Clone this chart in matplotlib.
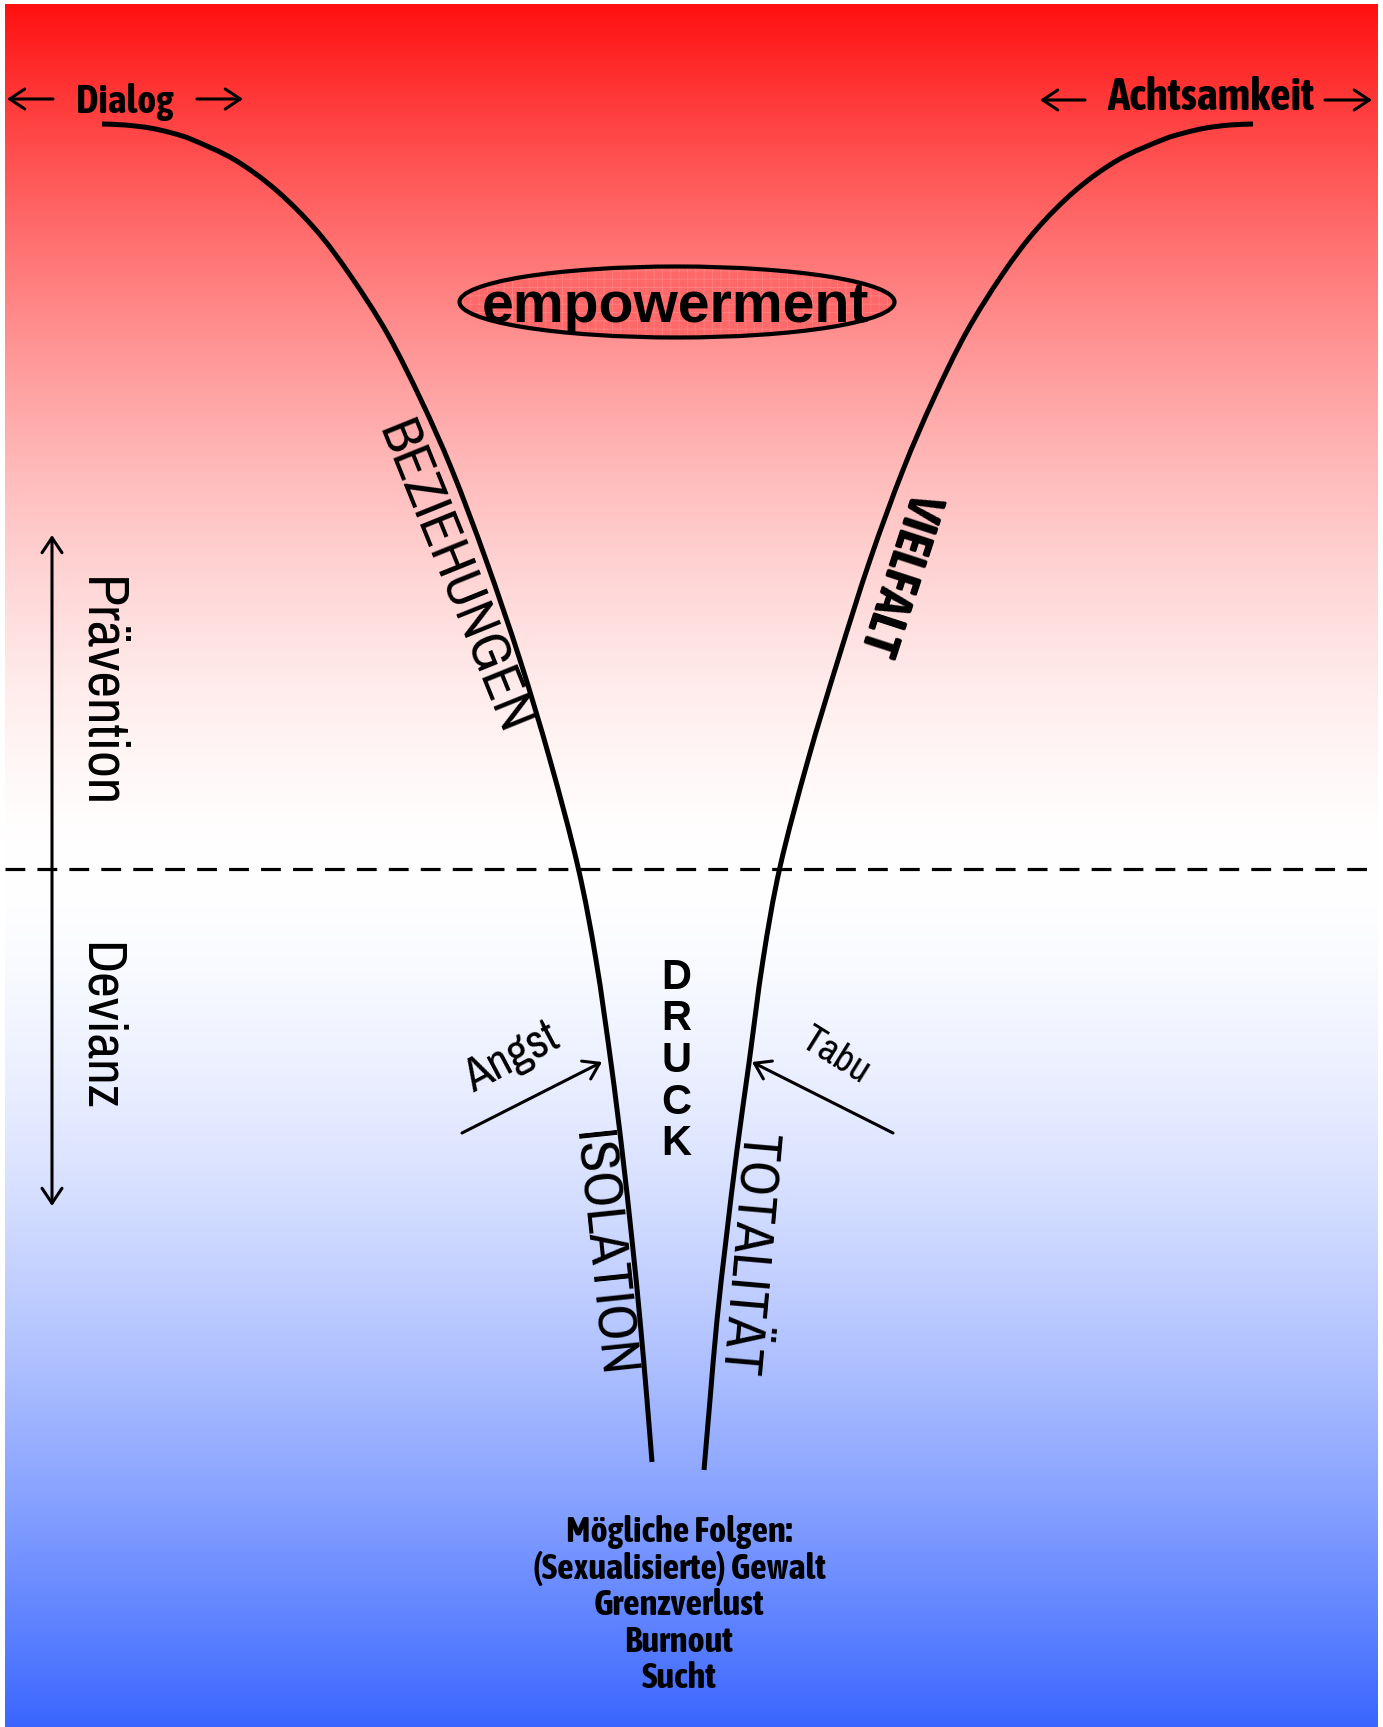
import numpy as np
import matplotlib
import matplotlib.pyplot as plt
from matplotlib.path import Path
from matplotlib.patches import PathPatch, Ellipse
from matplotlib import font_manager
matplotlib.use('Agg')

# labels
side_labels = ["Dialog", "Achtsamkeit"]
zone_labels = ["Prävention", "Devianz"]
wall_labels = ["BEZIEHUNGEN", "VIELFALT", "ISOLATION", "TOTALITÄT"]
force_labels = ["Angst", "Tabu"]
pressure_letters = ["D", "R", "U", "C", "K"]
center_label = "empowerment"
consequences = ["Mögliche Folgen:", "(Sexualisierte) Gewalt", "Grenzverlust", "Burnout", "Sucht"]

# funnel walls (pixel coords, y downward)
left_curve_y = [124, 125, 128, 133, 140, 160, 190, 230, 275, 333, 400, 470, 560, 660, 760, 867, 960, 1063, 1150, 1240, 1320, 1400, 1462]
left_curve_x = [102, 125, 150, 172, 193, 235, 276, 316, 350, 387, 421, 452, 486, 520, 550, 578, 596, 611, 622, 632, 640, 647, 652]
right_curve_y = [124, 125, 128, 133, 140, 160, 190, 230, 275, 333, 400, 470, 560, 660, 760, 867, 960, 1063, 1150, 1240, 1320, 1400, 1470]
right_curve_x = [1253, 1230, 1206, 1184, 1162, 1118, 1076, 1036, 1002, 966, 933, 903, 870, 838, 808, 780, 763, 749, 737, 726, 717, 710, 704]

# background gradient colours
top_color = np.array([255, 16, 16]) / 255
mid_color = np.array([255, 255, 255]) / 255
bottom_color = np.array([58, 102, 255]) / 255

W, H = 1383, 1727
fig = plt.figure(figsize=(W / 100, H / 100), dpi=100)
ax = fig.add_axes([0, 0, 1, 1])
ax.set_xlim(0, W)
ax.set_ylim(H, 0)
ax.axis('off')
renderer = fig.canvas.get_renderer()

# condensed faces if the system has them, else plain Liberation Sans
names = {f.name for f in font_manager.fontManager.ttflist}
narrow = 'Archivo Narrow' if 'Archivo Narrow' in names else 'Liberation Sans'
narrow_bold = 'Asap Condensed' if 'Asap Condensed' in names else 'Liberation Sans'
wide = 'Liberation Sans'


def fit_text(x, y, s, length, family, weight='normal', rotation=0, **kw):
    # size the text so that its run along the baseline is `length` pixels
    t = ax.text(x, y, s, family=family, weight=weight, fontsize=30, zorder=5, **kw)
    w = t.get_window_extent(renderer).width
    t.set_fontsize(30 * length / w)
    t.set_rotation(rotation)
    t.set_rotation_mode('anchor')
    return t


# gradient red -> white -> blue
split = 869
ys = np.linspace(4, H, 900)
rows = []
for y in ys:
    if y < split:
        s = ((split - y) / (split - 4)) ** 1.6
        rows.append(mid_color + (top_color - mid_color) * s)
    else:
        s = ((y - split) / (H - split)) ** 1.6
        rows.append(mid_color + (bottom_color - mid_color) * s)
grad = np.array(rows)[:, None, :]
ax.imshow(grad, extent=[5, 1378, H, 4], aspect='auto', interpolation='bilinear', zorder=0)


def smooth_path(xs, ys):
    pts = np.column_stack([xs, ys]).astype(float)
    verts = [pts[0]]
    codes = [Path.MOVETO]
    n = len(pts)
    for i in range(n - 1):
        p0 = pts[i - 1] if i > 0 else pts[i]
        p1, p2 = pts[i], pts[i + 1]
        p3 = pts[i + 2] if i + 2 < n else pts[i + 1]
        verts += [p1 + (p2 - p0) / 6, p2 - (p3 - p1) / 6, p2]
        codes += [Path.CURVE4] * 3
    return Path(verts, codes)


for cx, cy in [(left_curve_x, left_curve_y), (right_curve_x, right_curve_y)]:
    ax.add_patch(PathPatch(smooth_path(cx, cy), fill=False, lw=3.6, edgecolor='black',
                           capstyle='butt', joinstyle='round', zorder=3))

# dashed border between prevention and deviance
ax.plot([5, 1378], [split, split], color='black', lw=2.3, dashes=(6.2, 3.8), zorder=2)


def arrow(tail, head, style='->', lw=2.2):
    ax.annotate('', xy=head, xytext=tail,
                arrowprops=dict(arrowstyle=f'{style},head_length=0.45,head_width=0.3', lw=lw,
                                color='black', shrinkA=0, shrinkB=0, mutation_scale=24), zorder=4)


# top labels with arrows
fit_text(125, 113, side_labels[0], 97, narrow_bold, 'bold', ha='center', va='baseline')
arrow((53, 99), (7, 99))
arrow((197, 99), (243, 99))
fit_text(1211, 110, side_labels[1], 207, narrow_bold, 'bold', ha='center', va='baseline')
arrow((1085, 100), (1040, 100))
arrow((1325, 100), (1372, 100))

# side axis
arrow((52, 870), (52, 535))
arrow((52, 870), (52, 1206))
fit_text(100, 693, zone_labels[0], 231, narrow, rotation=-90, ha='center', va='center')
fit_text(100, 1026, zone_labels[1], 169, narrow, rotation=-90, ha='center', va='center')

# empowerment ellipse
plt.rcParams['hatch.linewidth'] = 0.6
ax.add_patch(Ellipse((677, 302), 435, 71, facecolor='#ff6868', edgecolor='#ff8080',
                     lw=0, hatch='++', zorder=2))
ax.add_patch(Ellipse((677, 302), 435, 71, facecolor='none', edgecolor='black', lw=3, zorder=3))
fit_text(676, 322, center_label, 387, wide, 'bold', ha='center', va='baseline')

# wall labels
fit_text(453, 578, wall_labels[0], 332, narrow, rotation=-68, ha='center', va='center')
fit_text(900, 573, wall_labels[1], 168, narrow_bold, 'bold', rotation=-108, ha='center', va='center')
fit_text(601, 1254, wall_labels[2], 246, narrow, rotation=-84, ha='center', va='center')
fit_text(748, 1254, wall_labels[3], 242, narrow, rotation=-95, ha='center', va='center')

# DRUCK stacked down the middle
ax.text(676, 1061, '\n'.join(pressure_letters), family=wide, weight='bold', fontsize=30,
        linespacing=1.05, ha='center', va='center', zorder=5)

# Angst / Tabu with arrows
fit_text(511, 1057, force_labels[0], 100, narrow, rotation=28, ha='center', va='center')
arrow((462, 1133), (602, 1062))
fit_text(835, 1056, force_labels[1], 74, narrow, rotation=-32, ha='center', va='center')
arrow((893, 1133), (752, 1062))

# consequences, one size for all lines
probe = fit_text(679, 1578.5, consequences[1], 292, narrow_bold, 'bold', ha='center', va='baseline')
fs = probe.get_fontsize()
for i, line in enumerate(consequences):
    if i == 1:
        continue
    ax.text(679, 1542 + i * 36.5, line, family=narrow_bold, weight='bold', fontsize=fs,
            ha='center', va='baseline', zorder=5)

fig.savefig('out.png', dpi=100, facecolor='white')
